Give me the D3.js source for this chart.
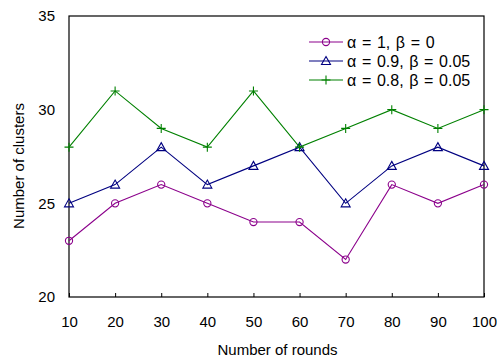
<!DOCTYPE html>
<html>
<head>
<meta charset="utf-8">
<script src="https://cdn.jsdelivr.net/npm/d3@7"></script>
<style>
  body { margin: 0; background: #fff; }
  text { font-family: "Liberation Sans", Arial, sans-serif; fill: #000; }
</style>
</head>
<body>
<svg id="chart" width="497" height="358"></svg>
<script>
// data
var rounds = [10, 20, 30, 40, 50, 60, 70, 80, 90, 100];
var clustersA = [23, 25, 26, 25, 24, 24, 22, 26, 25, 26];   // α = 1, β = 0
var clustersB = [25, 26, 28, 26, 27, 28, 25, 27, 28, 27];   // α = 0.9, β = 0.05
var clustersC = [28, 31, 29, 28, 31, 28, 29, 30, 29, 30];   // α = 0.8, β = 0.05
var seriesNames = ["α = 1, β = 0", "α = 0.9, β = 0.05", "α = 0.8, β = 0.05"];
var yTicks = [20, 25, 30, 35];

var series = [
  {name: seriesNames[0], values: clustersA, color: "#8b008b", marker: "circle"},
  {name: seriesNames[1], values: clustersB, color: "#000080", marker: "triangle"},
  {name: seriesNames[2], values: clustersC, color: "#008000", marker: "plus"}
];

var svg = d3.select("#chart");
var m = {left: 69, right: 484, top: 16, bottom: 297};

var x = d3.scaleLinear().domain([10, 100]).range([m.left, m.right]);
var y = d3.scaleLinear().domain([20, 35]).range([m.bottom, m.top]);

// x axis, ticks pointing inward
var xAxis = svg.append("g")
  .attr("transform", "translate(0," + m.bottom + ")")
  .call(d3.axisBottom(x).tickValues(rounds).tickSizeInner(-4).tickSizeOuter(0).tickPadding(19));
xAxis.select(".domain").remove();
xAxis.selectAll("text").attr("font-size", 15).attr("font-family", "Liberation Sans, Arial, sans-serif");

var yAxis = svg.append("g")
  .attr("transform", "translate(" + m.left + ",0)")
  .call(d3.axisLeft(y).tickValues(yTicks).tickSizeInner(0).tickSizeOuter(0).tickPadding(14));
yAxis.select(".domain").remove();
yAxis.selectAll("text").attr("font-size", 15).attr("font-family", "Liberation Sans, Arial, sans-serif");

// frame
svg.append("rect")
  .attr("x", m.left).attr("y", m.top)
  .attr("width", m.right - m.left).attr("height", m.bottom - m.top)
  .attr("fill", "none").attr("stroke", "#000").attr("stroke-width", 1.2);

var line = d3.line().x(function(d, i){ return x(rounds[i]); }).y(function(d){ return y(d); });

function drawMarker(g, type, cx, cy, color) {
  if (type === "circle") {
    g.append("circle").attr("cx", cx).attr("cy", cy).attr("r", 3.6)
      .attr("fill", "none").attr("stroke", color).attr("stroke-width", 1.1);
  } else if (type === "triangle") {
    g.append("path")
      .attr("d", "M" + cx + "," + (cy - 4.5) + " L" + (cx + 4.5) + "," + (cy + 3.5) + " L" + (cx - 4.5) + "," + (cy + 3.5) + " Z")
      .attr("fill", "none").attr("stroke", color).attr("stroke-width", 1.1);
  } else {
    g.append("path")
      .attr("d", "M" + (cx - 4.5) + "," + cy + " H" + (cx + 4.5) + " M" + cx + "," + (cy - 4.5) + " V" + (cy + 4.5))
      .attr("stroke", color).attr("stroke-width", 1.1);
  }
}

series.forEach(function(s){
  var g = svg.append("g");
  g.append("path").datum(s.values)
    .attr("d", line).attr("fill", "none")
    .attr("stroke", s.color).attr("stroke-width", 1.1);
  s.values.forEach(function(v, i){
    drawMarker(g, s.marker, x(rounds[i]), y(v), s.color);
  });
});

// legend
var legend = svg.append("g");
series.forEach(function(s, i){
  var ly = 42 + i * 19;
  legend.append("line").attr("x1", 309).attr("x2", 343).attr("y1", ly).attr("y2", ly)
    .attr("stroke", s.color).attr("stroke-width", 1.1);
  drawMarker(legend, s.marker, 326, ly, s.color);
  legend.append("text").attr("x", 347).attr("y", ly).attr("dy", "0.35em")
    .attr("font-size", 16).attr("word-spacing", 1.2).text(s.name);
});

// axis titles
svg.append("text").attr("x", (m.left + m.right) / 2 + 1).attr("y", 355)
  .attr("text-anchor", "middle").attr("font-size", 15).text("Number of rounds");
svg.append("text").attr("transform", "translate(24,166) rotate(-90)")
  .attr("text-anchor", "middle").attr("font-size", 15).text("Number of clusters");
</script>
</body>
</html>
